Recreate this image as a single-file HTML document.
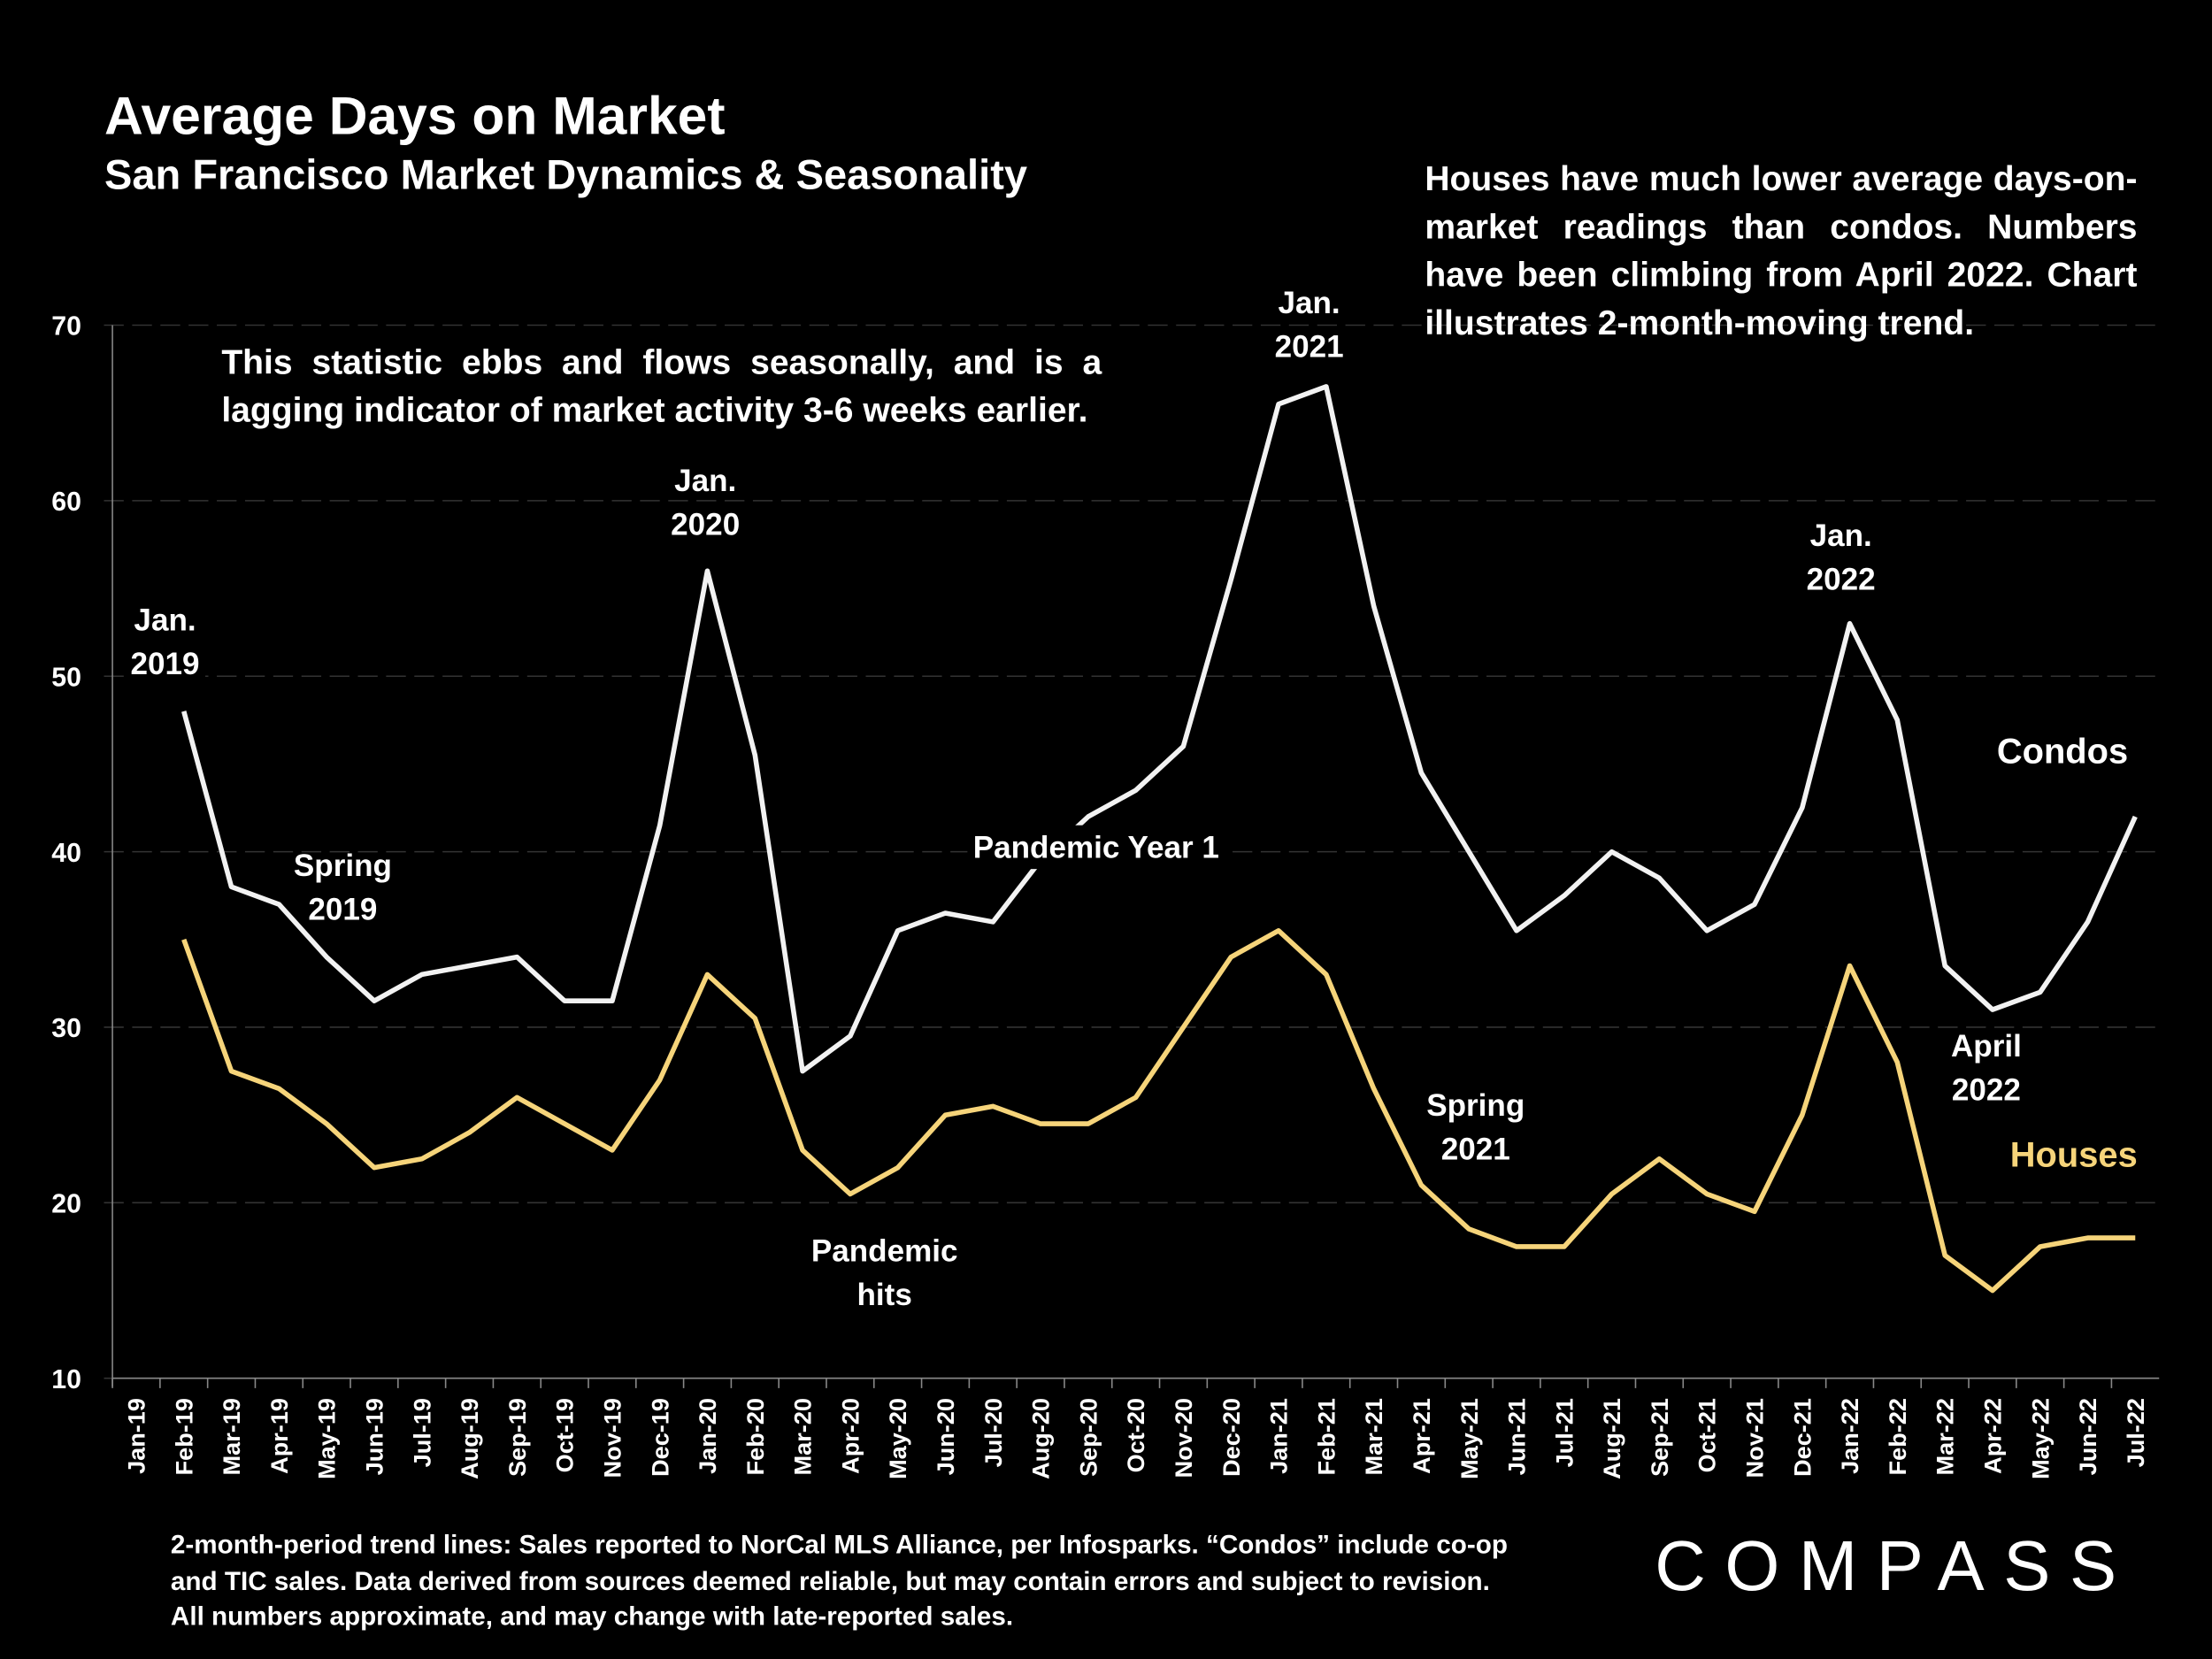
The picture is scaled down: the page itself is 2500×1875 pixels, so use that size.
<!DOCTYPE html>
<html><head><meta charset="utf-8"><style>
html,body{margin:0;padding:0;background:#000;width:2500px;height:1875px;overflow:hidden}
#wrap{position:absolute;left:0;top:0;width:1568px;height:1176px;transform:scale(1.59439);transform-origin:0 0;font-family:"Liberation Sans",sans-serif;color:#fff;font-weight:bold}
.t{position:absolute;white-space:nowrap}
.ann{position:absolute;text-align:center;font-size:22px;line-height:31px;padding:0 4px;transform:translateX(-50%)}
.bg{background:#000}
</style></head><body>
<div id="wrap">
<svg id="chart" width="1568" height="1176" style="position:absolute;left:0;top:0"></svg>
<div class="t" style="left:74px;top:62px;font-size:38px">Average Days on Market</div>
<div class="t" style="left:74px;top:108px;font-size:29.5px">San Francisco Market Dynamics &amp; Seasonality</div>
<div class="t" style="left:1010px;top:111px;width:505px;white-space:normal;font-size:24.5px;line-height:34px;text-align:justify;text-align-last:left">Houses have much lower average days-on-market readings than condos. Numbers have been climbing from April 2022. Chart illustrates 2-month-moving trend.</div>
<div class="t bg" style="left:157px;top:241px;width:624px;white-space:normal;font-size:24.5px;line-height:34px;text-align:justify;text-align-last:left">This statistic ebbs and flows seasonally, and is a lagging indicator of market activity 3-6 weeks earlier.</div>
<div class="ann bg" style="left:117px;top:424px">Jan.<br>2019</div>
<div class="ann" style="left:243px;top:598px">Spring<br>2019</div>
<div class="ann" style="left:500px;top:325px">Jan.<br>2020</div>
<div class="ann" style="left:627px;top:871px">Pandemic<br>hits</div>
<div class="ann bg" style="left:777px;top:585px">Pandemic Year 1</div>
<div class="ann" style="left:928px;top:199px">Jan.<br>2021</div>
<div class="ann" style="left:1046px;top:768px">Spring<br>2021</div>
<div class="ann" style="left:1305px;top:364px">Jan.<br>2022</div>
<div class="ann" style="left:1408px;top:726px">April<br>2022</div>
<div class="ann" style="left:1462px;top:518px;font-size:25px">Condos</div>
<div class="ann" style="left:1470px;top:804px;font-size:25px;color:#f6d47a">Houses</div>
<div class="t" style="left:121px;top:1082px;font-size:18.6px;line-height:25.5px">2-month-period trend lines: Sales reported to NorCal MLS Alliance, per Infosparks. “Condos” include co-op<br>and TIC sales. Data derived from sources deemed reliable, but may contain errors and subject to revision.<br>All numbers approximate, and may change with late-reported sales.</div>
<div class="t" style="left:1173px;top:1081px;font-size:50px;font-weight:normal;letter-spacing:13.5px">COMPASS</div>
</div>
<script>
const categories=["Jan-19","Feb-19","Mar-19","Apr-19","May-19","Jun-19","Jul-19","Aug-19","Sep-19","Oct-19","Nov-19","Dec-19","Jan-20","Feb-20","Mar-20","Apr-20","May-20","Jun-20","Jul-20","Aug-20","Sep-20","Oct-20","Nov-20","Dec-20","Jan-21","Feb-21","Mar-21","Apr-21","May-21","Jun-21","Jul-21","Aug-21","Sep-21","Oct-21","Nov-21","Dec-21","Jan-22","Feb-22","Mar-22","Apr-22","May-22","Jun-22","Jul-22"];
const condos=[null,48,38,37,34,31.5,33,33.5,34,31.5,31.5,41.5,56,45.5,27.5,29.5,35.5,36.5,36,39.5,42,43.5,46,55.5,65.5,66.5,54,44.5,40,35.5,37.5,40,38.5,35.5,37,42.5,53,47.5,33.5,31,32,36,42];
const houses=[null,35,27.5,26.5,24.5,22,22.5,24,26,24.5,23,27,33,30.5,23,20.5,22,25,25.5,24.5,24.5,26,30,34,35.5,33,26.5,21,18.5,17.5,17.5,20.5,22.5,20.5,19.5,25,33.5,28,17,15,17.5,18,18];
const yTicks=[10,20,30,40,50,60,70];
const NS="http://www.w3.org/2000/svg";
const svg=document.getElementById('chart');
const L=79.7,R=1530.5,T=230.5,B=977;
const bw=(R-L)/categories.length;
const x=i=>L+bw*(i+0.5);
const y=v=>B-(v-10)/60*(B-T);
function mk(tag,attrs,parent){const e=document.createElementNS(NS,tag);for(const k in attrs)e.setAttribute(k,attrs[k]);(parent||svg).appendChild(e);return e;}
yTicks.forEach(v=>{
  const g=mk('line',{x1:L-6,x2:R,y1:y(v),y2:y(v),stroke:'#333','stroke-width':1,'stroke-dasharray':v==10?'':'14,6'});
  
  
  const t=mk('text',{x:L-22,y:y(v)+7,'text-anchor':'end',fill:'#fff','font-size':19,'font-weight':'bold','font-family':'Liberation Sans, sans-serif'});
  t.textContent=v;
  
  
});
const ax=mk('line',{x1:L,x2:L,y1:T,y2:B+6,stroke:'#888','stroke-width':1});


const xa=mk('line',{x1:L,x2:R,y1:B,y2:B,stroke:'#888','stroke-width':1});


categories.forEach((c,i)=>{
  const tk=mk('line',{x1:L+bw*i,x2:L+bw*i,y1:B,y2:B+7,stroke:'#888','stroke-width':1});
  
  
  const t=mk('text',{transform:`translate(${x(i)+6},${B+14}) rotate(-90)`,'text-anchor':'end',fill:'#fff','font-size':17,'font-weight':'bold','font-family':'Liberation Sans Narrow, Liberation Sans, sans-serif'});
  t.textContent=c;
  
  
});
function line(data,color,name){
  let d='';data.forEach((v,i)=>{if(v==null)return;d+=(d?'L':'M')+x(i).toFixed(1)+','+y(v).toFixed(1);});
  const p=mk('path',{d:d,fill:'none',stroke:color,'stroke-width':3.5,'stroke-linejoin':'round'});
  
  
}
line(houses,'#f6d47a','houses-line');
line(condos,'#f2f2f2','condos-line');
</script>
</body></html>
